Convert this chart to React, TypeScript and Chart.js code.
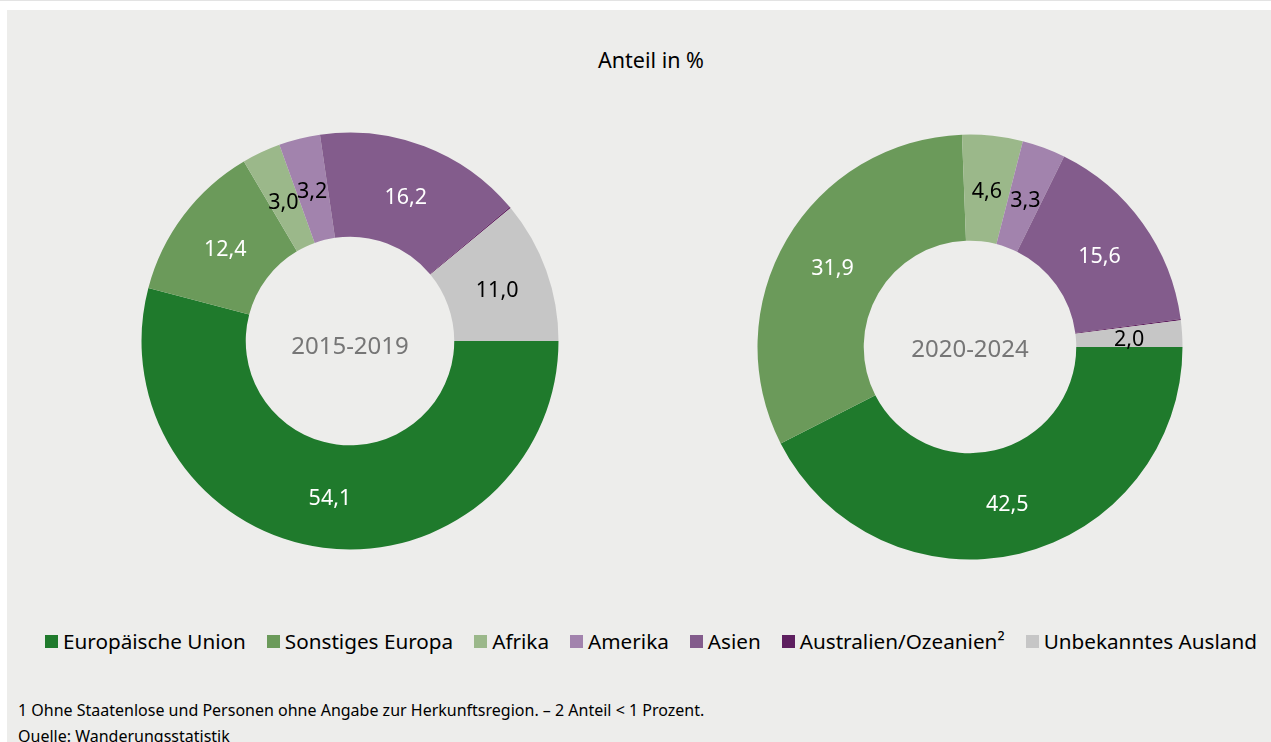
import React, { useEffect, useRef } from "react";
import { Chart, registerables } from "chart.js";

Chart.register(...registerables);

const categories = [
  "Europäische Union",
  "Sonstiges Europa",
  "Afrika",
  "Amerika",
  "Asien",
  "Australien/Ozeanien²",
  "Unbekanntes Ausland",
];
const values2015 = [54.1, 12.4, 3.0, 3.2, 16.2, 0.1, 11.0];
const values2020 = [42.5, 31.9, 4.6, 3.3, 15.6, 0.1, 2.0];
const periodLabels = ["2015-2019", "2020-2024"];
const colors = ["#1f7a2c", "#6b9a5a", "#9bb88a", "#a283ad", "#835c8c", "#5e1f5f", "#c6c6c6"];
const valueLabelColors = ["#ffffff", "#ffffff", "#000000", "#000000", "#ffffff", "#000000", "#000000"];
const title = "Anteil in %";
const footnotes = [
  "1 Ohne Staatenlose und Personen ohne Angabe zur Herkunftsregion. – 2 Anteil < 1 Prozent.",
  "Quelle: Wanderungsstatistik",
];

const FONT = "'Noto Sans', sans-serif";
const BG = "#ededeb";

function Donut(props: {
  values: number[];
  center: string;
  left: number;
  top: number;
  radius: number;
  centerShift: number;
}) {
  const ref = useRef<HTMLCanvasElement | null>(null);
  useEffect(() => {
    if (!ref.current) return;
    const labelPlugin = {
      id: "valueLabels",
      afterDatasetsDraw(chart: any) {
        const ctx = chart.ctx;
        const meta = chart.getDatasetMeta(0);
        ctx.save();
        ctx.textAlign = "center";
        ctx.textBaseline = "middle";
        ctx.font = `21.5px ${FONT}`;
        meta.data.forEach((arc: any, i: number) => {
          const v = props.values[i];
          if (v < 1) return;
          const p = arc.tooltipPosition(false);
          ctx.fillStyle = valueLabelColors[i];
          ctx.fillText(v.toFixed(1).replace(".", ","), p.x, p.y + 3);
        });
        const first = meta.data[0];
        ctx.font = `24px ${FONT}`;
        ctx.fillStyle = "#767676";
        ctx.fillText(props.center, first.x, first.y + props.centerShift);
        ctx.restore();
      },
    };
    const chart = new Chart(ref.current, {
      type: "doughnut",
      data: {
        labels: categories,
        datasets: [
          {
            data: props.values,
            backgroundColor: colors,
            borderWidth: 0,
            radius: props.radius,
          } as any,
        ],
      },
      options: {
        responsive: false,
        animation: false,
        rotation: 90,
        cutout: "50%",
        layout: { padding: 0 },
        plugins: {
          legend: { display: false },
          tooltip: { enabled: false },
        },
      },
      plugins: [labelPlugin],
    });
    return () => chart.destroy();
  }, []);
  return (
    <canvas
      ref={ref}
      width={440}
      height={440}
      style={{ position: "absolute", left: props.left, top: props.top, width: 440, height: 440 }}
    />
  );
}

export default function App() {
  return (
    <div
      style={{
        position: "absolute",
        left: 0,
        top: 0,
        width: 1271,
        height: 742,
        overflow: "hidden",
        background: "#ffffff",
        fontFamily: FONT,
      }}
    >
      <div style={{ position: "absolute", left: 0, top: 0, width: 1271, height: 1, background: "#e3e3e3" }} />
      <div style={{ position: "absolute", left: 7, top: 10, width: 1264, height: 732, background: BG }} />
      <div
        style={{
          position: "absolute",
          left: 0,
          width: 1302,
          top: 46,
          textAlign: "center",
          fontSize: 21.5,
          lineHeight: "28px",
          color: "#000",
        }}
      >
        {title}
      </div>
      <Donut values={values2015} center={periodLabels[0]} left={130} top={121} radius={208.5} centerShift={6} />
      <Donut values={values2020} center={periodLabels[1]} left={750} top={127} radius={212.5} centerShift={3} />
      <div
        style={{
          position: "absolute",
          left: 45,
          top: 627,
          height: 28,
          display: "flex",
          alignItems: "center",
          whiteSpace: "nowrap",
          fontSize: 20.7,
          color: "#000",
        }}
      >
        {categories.map((c, i) => (
          <div key={c} style={{ display: "flex", alignItems: "center", marginRight: 21 }}>
            <span style={{ display: "inline-block", width: 13, height: 13, background: colors[i], marginRight: 5 }} />
            <span>{c}</span>
          </div>
        ))}
      </div>
      <div
        style={{
          position: "absolute",
          left: 18,
          top: 697,
          fontSize: 16,
          lineHeight: "26px",
          color: "#000",
          whiteSpace: "nowrap",
        }}
      >
        {footnotes.map((f) => (
          <div key={f}>{f}</div>
        ))}
      </div>
    </div>
  );
}
